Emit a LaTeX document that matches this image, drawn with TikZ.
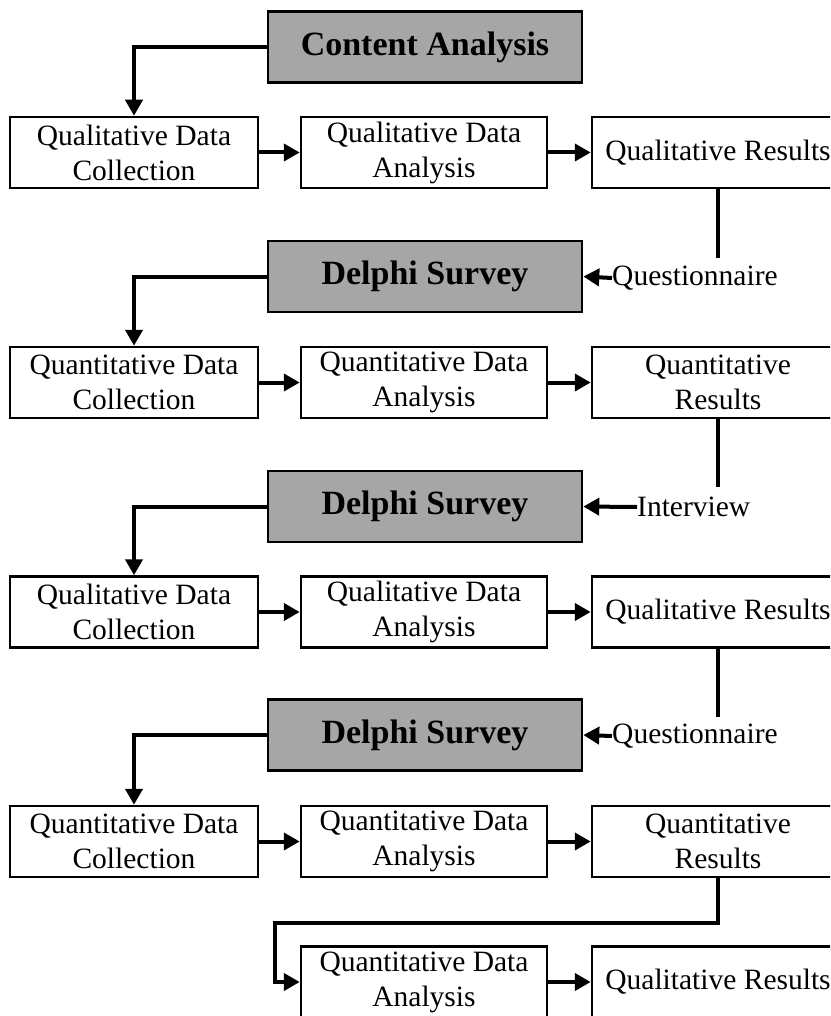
\documentclass[tikz,border=0pt]{standalone}
\usepackage{fontspec}
\setmainfont{Liberation Serif}
\usetikzlibrary{arrows.meta}
\definecolor{boxgray}{RGB}{166,166,166}
\tikzset{
  wbox/.style={draw=black, line width=2.5pt, fill=white, inner sep=0pt, minimum height=71pt, align=center, font=\fontsize{29.5}{35}\selectfont},
  gbox/.style={draw=black, line width=2.5pt, fill=boxgray, inner sep=0pt, minimum width=314pt, minimum height=71pt, font=\fontsize{34}{40}\selectfont\bfseries},
  lbl/.style={inner sep=0pt, anchor=west, font=\fontsize{29.5}{35}\selectfont},
  conn/.style={line width=4pt, -{Triangle[length=16pt,width=17pt]}},
  plain/.style={line width=4pt},
  c1/.style={wbox, minimum width=248pt},
  c2/.style={wbox, minimum width=246pt},
  c3/.style={wbox, minimum width=252pt},
}
\begin{document}
\begin{tikzpicture}[x=1pt,y=-1pt]
\useasboundingbox (0,0) rectangle (830,1016);
\clip (0,0) rectangle (830,1016);
% row 0
\node[gbox] (g1) at (425,47) {Content Analysis};
\node[c1] (r1a) at (134,152.5) {Qualitative Data\\Collection};
\node[c2] (r1b) at (424,152.5) {Qualitative Data\\Analysis};
\node[c3] (r1c) at (718,152.5) {Qualitative Results};
\draw[conn] (g1.west) -| (r1a.north);
\draw[conn] (r1a) -- (r1b);
\draw[conn] (r1b) -- (r1c);
\coordinate (e1) at (718,258);
\draw[plain] (r1c.south) -- (e1);
% delphi 1
\node[gbox] (g2) at (425,276.5) {Delphi Survey};
\node[lbl] (l2) at (612,278) {Questionnaire};
\draw[conn] (l2.west) -- (g2.east);
\node[c1] (r2a) at (134,382.5) {Quantitative Data\\Collection};
\node[c2] (r2b) at (424,382.5) {Quantitative Data\\Analysis};
\node[c3] (r2c) at (718,382.5) {Quantitative\\Results};
\draw[conn] (g2.west) -| (r2a.north);
\draw[conn] (r2a) -- (r2b);
\draw[conn] (r2b) -- (r2c);
\coordinate (e2) at (718,487);
\draw[plain] (r2c.south) -- (e2);
% delphi 2
\node[gbox] (g3) at (425,506.5) {Delphi Survey};
\node[lbl] (l3) at (637,507) {Interview};
\draw[conn] (l3.west) -- (g3.east);
\node[c1] (r3a) at (134,612) {Qualitative Data\\Collection};
\node[c2] (r3b) at (424,612) {Qualitative Data\\Analysis};
\node[c3] (r3c) at (718,612) {Qualitative Results};
\draw[conn] (g3.west) -| (r3a.north);
\draw[conn] (r3a) -- (r3b);
\draw[conn] (r3b) -- (r3c);
\coordinate (e3) at (718,717);
\draw[plain] (r3c.south) -- (e3);
% delphi 3
\node[gbox] (g4) at (425,735) {Delphi Survey};
\node[lbl] (l4) at (612,736) {Questionnaire};
\draw[conn] (l4.west) -- (g4.east);
\node[c1] (r4a) at (134,841.5) {Quantitative Data\\Collection};
\node[c2] (r4b) at (424,841.5) {Quantitative Data\\Analysis};
\node[c3] (r4c) at (718,841.5) {Quantitative\\Results};
\draw[conn] (g4.west) -| (r4a.north);
\draw[conn] (r4a) -- (r4b);
\draw[conn] (r4b) -- (r4c);
% last row
\node[c2] (r5b) at (424,982) {Quantitative Data\\Analysis};
\node[c3] (r5c) at (718,982) {Qualitative Results};
\coordinate (t1) at (275,923);
\draw[conn] (r4c.south) |- (t1) |- (r5b.west);
\draw[conn] (r5b) -- (r5c);
\end{tikzpicture}
\end{document}
